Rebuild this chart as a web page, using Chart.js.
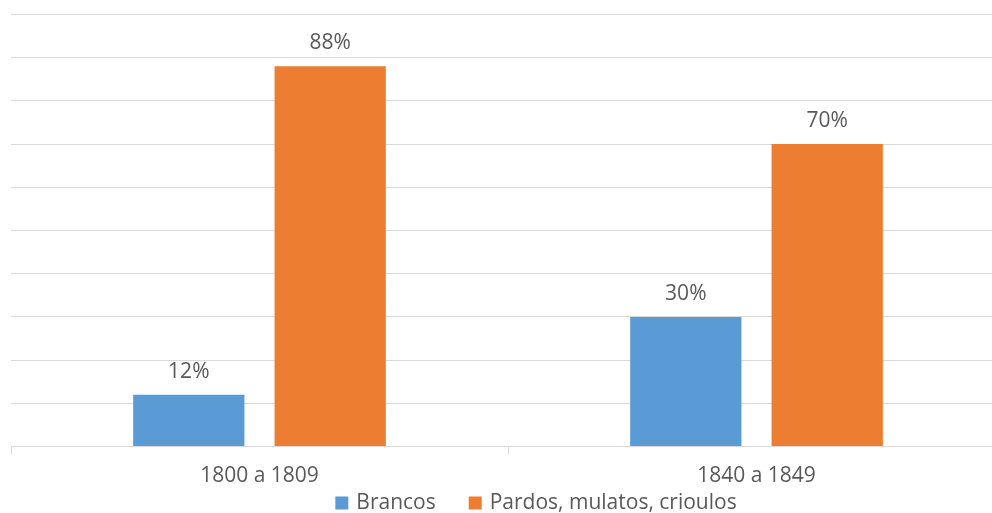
<!DOCTYPE html>
<html>
<head>
<meta charset="utf-8">
<script src="https://cdn.jsdelivr.net/npm/chart.js@4/dist/chart.umd.min.js"></script>
<style>
  html, body { margin: 0; padding: 0; background: #fff; overflow: hidden; }
  #wrap { width: 1005px; height: 513px; position: relative; }
</style>
</head>
<body>
<div id="wrap"><canvas id="chart"></canvas></div>
<script>
const periods = ["1800 a 1809", "1840 a 1849"];
const brancos = [12, 30];
const pardos = [88, 70];
const seriesNames = ["Brancos", "Pardos, mulatos, crioulos"];
const seriesColors = ["#5B9BD5", "#ED7D31"];

const textColor = "#595959";
const fontFamily = "'Open Sans', sans-serif";

// draws the percentage above each bar
const barLabels = {
    id: "barLabels",
    afterDatasetsDraw(chart) {
        const ctx = chart.ctx;
        ctx.save();
        ctx.font = "21px " + fontFamily;
        ctx.fillStyle = textColor;
        ctx.textAlign = "center";
        ctx.textBaseline = "middle";
        chart.data.datasets.forEach((ds, i) => {
            chart.getDatasetMeta(i).data.forEach((bar, j) => {
                ctx.fillText(ds.data[j] + "%", bar.x, bar.y - 23);
            });
        });
        ctx.restore();
    }
};

// excel style legend: wide gap between entries, sits under the axis labels
const bottomLegend = {
    id: "bottomLegend",
    afterDraw(chart) {
        const ctx = chart.ctx;
        const box = 13, gap = 8, between = 33;
        const centerX = 536, y = 503;
        ctx.save();
        ctx.font = "21px " + fontFamily;
        ctx.textBaseline = "middle";
        ctx.textAlign = "left";
        const items = chart.data.datasets.map(ds => ({
            text: ds.label, color: ds.backgroundColor, w: ctx.measureText(ds.label).width
        }));
        let total = items.reduce((s, it) => s + box + gap + it.w, 0) + between * (items.length - 1);
        let x = centerX - total / 2;
        items.forEach(it => {
            ctx.fillStyle = it.color;
            ctx.fillRect(x, y - box / 2, box, box);
            ctx.fillStyle = textColor;
            ctx.fillText(it.text, x + box + gap, y);
            x += box + gap + it.w + between;
        });
        ctx.restore();
    }
};

new Chart(document.getElementById("chart"), {
    type: "bar",
    data: {
        labels: periods,
        datasets: [
            { label: seriesNames[0], data: brancos, backgroundColor: seriesColors[0] },
            { label: seriesNames[1], data: pardos, backgroundColor: seriesColors[1] }
        ]
    },
    options: {
        responsive: true,
        maintainAspectRatio: false,
        animation: false,
        layout: { padding: { left: 11, right: 0, top: 14.5, bottom: 24.5 } },
        datasets: { bar: { categoryPercentage: 0.569, barPercentage: 0.787 } },
        scales: {
            x: {
                offset: true,
                grid: { offset: true, drawOnChartArea: false, color: "#d9d9d9", tickLength: 8 },
                border: { color: "#d9d9d9", width: 1 },
                ticks: { color: textColor, font: { family: fontFamily, size: 21 }, padding: 9 },
                afterFit(scale) { scale.height = 42; }
            },
            y: {
                min: 0, max: 100,
                ticks: { display: false, stepSize: 10 },
                grid: { color: "#d9d9d9", drawTicks: false },
                border: { display: false }
            }
        },
        plugins: {
            legend: { display: false },
            tooltip: { enabled: false }
        }
    },
    plugins: [barLabels, bottomLegend]
});
</script>
</body>
</html>
